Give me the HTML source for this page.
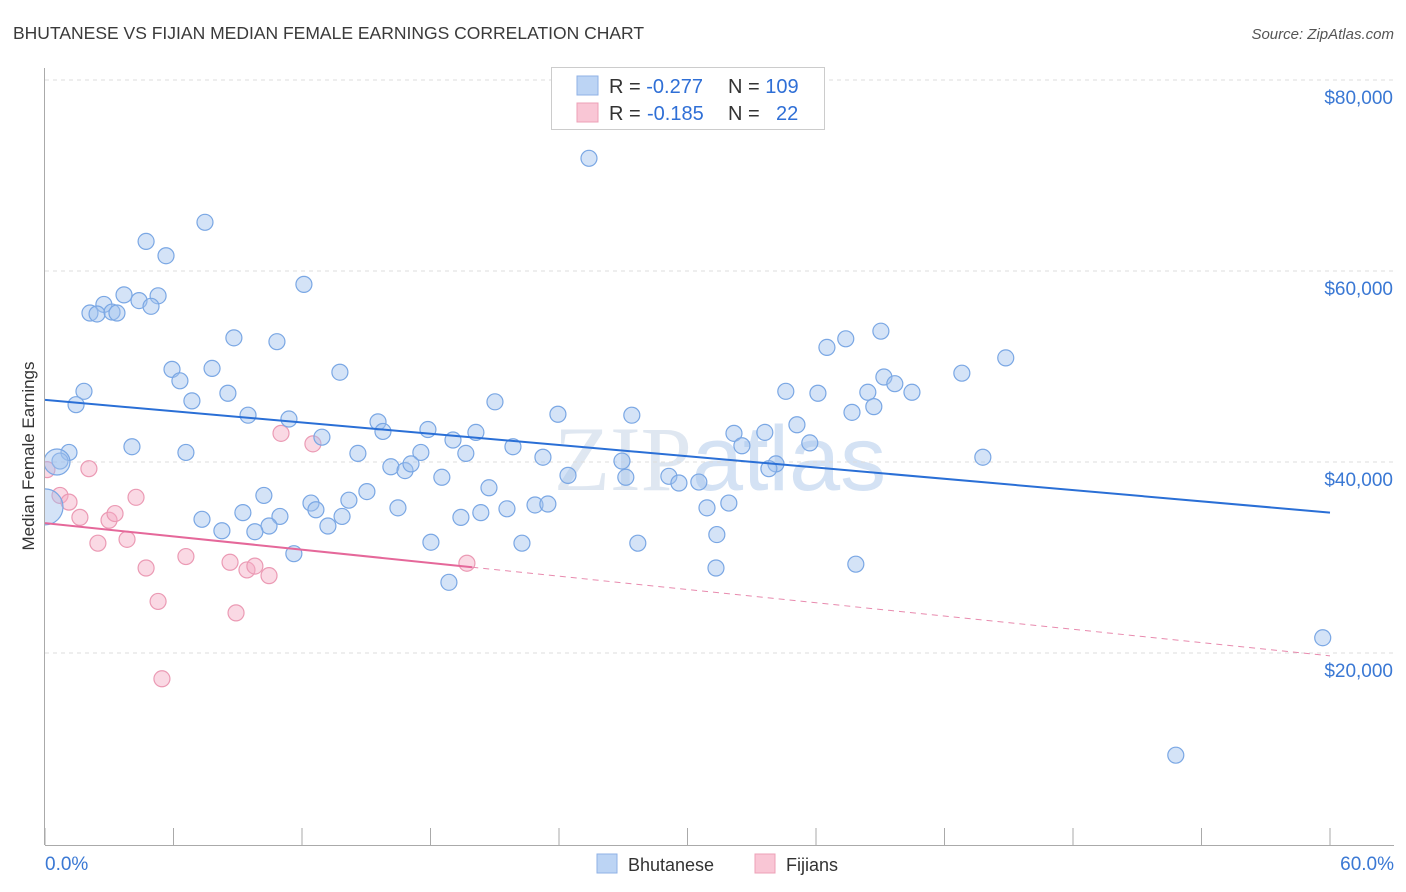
<!DOCTYPE html>
<html><head><meta charset="utf-8"><style>
body{margin:0;background:#fff;font-family:"Liberation Sans",sans-serif}
svg{display:block}
</style></head><body>
<svg id="chart" width="1406" height="892" xmlns="http://www.w3.org/2000/svg">
<defs><clipPath id="plotclip"><rect x="45" y="60" width="1360" height="785"/></clipPath></defs>
<text x="13" y="39" font-size="17.5" fill="#3a3a3a">BHUTANESE VS FIJIAN MEDIAN FEMALE EARNINGS CORRELATION CHART</text>
<text x="1394" y="39" font-size="15" fill="#555" font-style="italic" text-anchor="end">Source: ZipAtlas.com</text>
<text x="720" y="490" font-size="92" fill="#dfe7f1" text-anchor="middle" font-family="Liberation Serif,serif">ZIP<tspan font-family="Liberation Sans,sans-serif" fill="#d4e2f4">atlas</tspan></text>
<g id="grid"></g><g id="axes"></g><g id="marks" clip-path="url(#plotclip)"></g>
<text transform="translate(34,456) rotate(-90)" font-size="17" fill="#333" text-anchor="middle">Median Female Earnings</text>
<g>
<rect x="551.5" y="67.5" width="273" height="62" fill="#fff" stroke="#ccc"/>
<rect x="577" y="76" width="21" height="19" fill="#bcd4f4" stroke="#8fb2e6"/>
<rect x="577" y="103" width="21" height="19" fill="#f9c6d5" stroke="#eda0b7"/>
<text x="609" y="93" font-size="20" fill="#333">R = <tspan fill="#2f6fd6">-0.277</tspan><tspan x="728">N = </tspan><tspan fill="#2f6fd6">109</tspan></text>
<text x="609" y="120" font-size="20" fill="#333">R = <tspan x="647" fill="#2f6fd6">-0.185</tspan><tspan x="728">N = </tspan><tspan x="776" fill="#2f6fd6">22</tspan></text>
</g>
<g>
<rect x="597" y="854" width="20" height="19" fill="#bcd4f4" stroke="#8fb2e6"/>
<text x="628" y="871" font-size="18" fill="#333">Bhutanese</text>
<rect x="755" y="854" width="20" height="19" fill="#f9c6d5" stroke="#eda0b7"/>
<text x="786" y="871" font-size="18" fill="#333">Fijians</text>
</g>
</svg>
<script>
const yTicks=[20000,40000,60000,80000];
const yTickLabels=["$20,000","$40,000","$60,000","$80,000"];
const xTickLabels=["0.0%","60.0%"];
const blueX=[25.4,7.47,4.72,5.65,12.09,3.69,5.28,2.75,4.39,4.95,2.10,2.43,3.13,3.36,8.82,10.83,39.03,37.39,36.51,44.86,5.93,7.80,13.77,6.30,42.81,39.17,39.68,38.42,40.48,34.59,36.09,1.82,8.54,6.86,1.45,21.01,38.70,37.68,9.48,23.95,27.40,11.39,15.55,35.11,15.78,17.88,20.12,12.93,32.17,33.61,19.05,4.06,35.71,32.54,21.85,1.12,6.58,14.61,17.55,19.65,23.25,43.79,0.70,26.94,16.15,16.81,17.09,18.53,24.42,27.12,29.13,29.60,30.53,34.13,33.80,20.73,15.03,10.22,12.42,14.19,16.48,12.65,22.88,23.48,21.57,31.93,30.91,9.24,10.97,13.87,20.35,19.42,7.33,10.46,13.21,8.26,9.80,31.37,18.02,22.27,27.68,11.62,31.33,37.86,18.86,59.66,52.80,0.56,0.0];
const blueY=[71800,65100,63100,61600,58600,57500,57400,56500,56900,56300,55600,55500,55700,55600,53000,52600,53700,52900,52000,50900,49700,49800,49400,48500,49300,48900,48200,47300,47300,47400,47200,47400,47200,46400,46000,46300,45800,45200,44900,45000,44900,44500,44200,43900,43200,43400,43100,42600,43000,43100,42300,41600,42000,41700,41600,41000,41000,40900,41000,40900,40500,40500,40100,40100,39500,39100,39800,38400,38600,38400,38500,37800,37900,39800,39300,37300,36900,36500,35700,36000,35200,35000,35500,35600,35100,35700,35200,34700,34300,34300,34700,34200,34000,33300,33300,32800,32700,32400,31600,31500,31500,30400,28900,29300,27400,21600,9300,40000,35300];
const pinkX=[0.09,2.05,0.70,1.12,4.25,1.63,2.99,3.27,2.47,3.83,6.58,4.72,8.64,9.43,9.80,10.46,11.02,12.51,5.28,8.92,19.70,5.46];
const pinkY=[39200,39300,36500,35800,36300,34200,33900,34600,31500,31900,30100,28900,29500,28700,29100,28100,43000,41900,25400,24200,29400,17300];
const blueTrend=[46500,34700];
const pinkTrend=[33600,19700];
const pinkSolidEnd=19.95;

const NS="http://www.w3.org/2000/svg";
const X0=45,X1=1330,YB=844;
const xs=p=>X0+(X1-X0)*p/60;
const ys=v=>YB-(YB-653)*v/20000;
function mk(tag,attrs,parent){const e=document.createElementNS(NS,tag);for(const k in attrs)e.setAttribute(k,attrs[k]);document.getElementById(parent).appendChild(e);return e;}

yTicks.forEach((v,i)=>{
  const g=mk('line',{x1:45,x2:1394,y1:ys(v),y2:ys(v),stroke:'#dcdcdc','stroke-dasharray':'4,4'},'grid');
  
  
  const t=mk('text',{x:1393,y:ys(v)+24,'font-size':19,fill:'#3a78d4','text-anchor':'end'},'axes');
  t.textContent=yTickLabels[i];
  
  
});
const ax=mk('line',{x1:44.5,x2:44.5,y1:68,y2:845,stroke:'#aaa'},'axes');


const bx=mk('line',{x1:45,x2:1394,y1:845.5,y2:845.5,stroke:'#aaa'},'axes');


for(let i=0;i<=10;i++){
  const l=mk('line',{x1:xs(i*6),x2:xs(i*6),y1:828,y2:845,stroke:'#aaa'},'axes');
  
  
}
[[0,'start',45],[60,'end',1394]].forEach((d,i)=>{
  const t=mk('text',{x:d[2],y:870,'font-size':19,fill:'#3a78d4','text-anchor':d[1]},'axes');
  t.textContent=xTickLabels[i];
  
  
});

pinkX.forEach((x,i)=>{
  const c=mk('circle',{cx:xs(x),cy:ys(pinkY[i]),r:8,fill:'rgba(244,170,195,0.45)',stroke:'#eb9ab4','stroke-width':1.2},'marks');
  
  
});
blueX.forEach((x,i)=>{
  const n=blueX.length;
  const r=i===n-1?18:(i===n-2?13:8);
  const c=mk('circle',{cx:xs(x),cy:ys(blueY[i]),r:r,fill:'rgba(160,192,238,0.45)',stroke:'#7aa7e4','stroke-width':1.2},'marks');
  
  
});
const bt=mk('line',{x1:xs(0),y1:ys(blueTrend[0]),x2:xs(60),y2:ys(blueTrend[1]),stroke:'#2a6fd6','stroke-width':2},'marks');


const pAt=p=>pinkTrend[0]+(pinkTrend[1]-pinkTrend[0])*p/60;
const pt=mk('line',{x1:xs(0),y1:ys(pinkTrend[0]),x2:xs(pinkSolidEnd),y2:ys(pAt(pinkSolidEnd)),stroke:'#e5689a','stroke-width':2},'marks');


const pd=mk('line',{x1:xs(pinkSolidEnd),y1:ys(pAt(pinkSolidEnd)),x2:xs(60),y2:ys(pinkTrend[1]),stroke:'#e88aae','stroke-width':1,'stroke-dasharray':'6,5'},'marks');


</script>
</body></html>
